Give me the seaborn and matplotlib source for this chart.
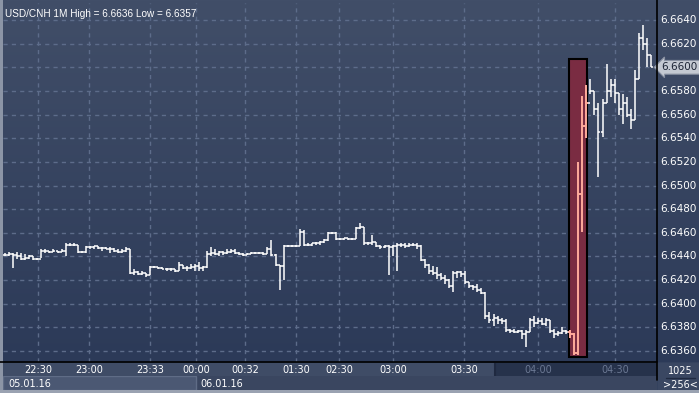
import numpy as np
import pandas as pd
import matplotlib
matplotlib.use("Agg")
import matplotlib.pyplot as plt
import seaborn as sns
from matplotlib.patches import Rectangle
from matplotlib.colors import LinearSegmentedColormap

# ---------------- data ----------------
highs = [6.6443, 6.6444, 6.6443, 6.6444, 6.6443, 6.6442, 6.6441, 6.6440, 6.6439,
         6.6446, 6.6446, 6.6445, 6.6446, 6.6445, 6.6446,
         6.6451, 6.6451, 6.6451, 6.6450, 6.6445, 6.6449, 6.6449, 6.6449, 6.6449,
         6.6448, 6.6448, 6.6448, 6.6447, 6.6446, 6.6446, 6.6448,
         6.6446, 6.6429, 6.6428, 6.6428, 6.6426, 6.6432, 6.6432, 6.6431, 6.6431,
         6.6430, 6.6430, 6.6429, 6.6435, 6.6433, 6.6432, 6.6434, 6.6434, 6.6435,
         6.6432, 6.6445, 6.6448, 6.6446, 6.6445, 6.6445, 6.6446, 6.6446, 6.6446,
         6.6444, 6.6443, 6.6443, 6.6444, 6.6444, 6.6444, 6.6444, 6.6448, 6.6454,
         6.6442, 6.6433, 6.6450, 6.6450, 6.6450, 6.6450, 6.6463, 6.6462, 6.6451,
         6.6451, 6.6452, 6.6453, 6.6455, 6.6461, 6.6461, 6.6461, 6.6456, 6.6456,
         6.6456, 6.6456, 6.6465, 6.6468, 6.6465, 6.6452, 6.6458, 6.6452, 6.6450,
         6.6450, 6.6450, 6.6450, 6.6451, 6.6451, 6.6451, 6.6451, 6.6451, 6.6451,
         6.6450, 6.6438, 6.6434, 6.6432, 6.6431, 6.6426, 6.6424, 6.6421, 6.6428,
         6.6428, 6.6428, 6.6428, 6.6418, 6.6416, 6.6417, 6.6413, 6.6410, 6.6393,
         6.6391, 6.6390, 6.6388, 6.6387, 6.6379, 6.6379, 6.6378, 6.6378, 6.6378,
         6.6388, 6.6390, 6.6388, 6.6388, 6.6388, 6.6386, 6.6379, 6.6377, 6.6380,
         6.6378, 6.6378, 6.6375, 6.6520, 6.6576, 6.6585,
         6.6590, 6.6580, 6.6570, 6.6573, 6.6603, 6.6590, 6.6590, 6.6578, 6.6577,
         6.6575, 6.6565, 6.6598, 6.6629, 6.6636, 6.6625, 6.6610]
lows = [6.6440, 6.6440, 6.6430, 6.6438, 6.6437, 6.6437, 6.6438, 6.6437, 6.6437,
        6.6439, 6.6443, 6.6443, 6.6444, 6.6443, 6.6444,
        6.6440, 6.6449, 6.6449, 6.6443, 6.6443, 6.6443, 6.6446, 6.6446, 6.6446,
        6.6445, 6.6446, 6.6443, 6.6444, 6.6443, 6.6443, 6.6444,
        6.6425, 6.6424, 6.6424, 6.6424, 6.6423, 6.6424, 6.6430, 6.6429, 6.6429,
        6.6428, 6.6428, 6.6427, 6.6428, 6.6429, 6.6428, 6.6429, 6.6428, 6.6428,
        6.6428, 6.6430, 6.6440, 6.6441, 6.6440, 6.6441, 6.6442, 6.6443, 6.6442,
        6.6441, 6.6440, 6.6441, 6.6442, 6.6442, 6.6442, 6.6441, 6.6442, 6.6440,
        6.6432, 6.6412, 6.6420, 6.6448, 6.6448, 6.6448, 6.6449, 6.6449, 6.6449,
        6.6449, 6.6450, 6.6450, 6.6451, 6.6453, 6.6459, 6.6454, 6.6454, 6.6454,
        6.6454, 6.6454, 6.6455, 6.6463, 6.6450, 6.6450, 6.6450, 6.6448, 6.6446,
        6.6447, 6.6424, 6.6440, 6.6428, 6.6448, 6.6447, 6.6448, 6.6449, 6.6446,
        6.6436, 6.6430, 6.6425, 6.6424, 6.6421, 6.6420, 6.6417, 6.6413, 6.6410,
        6.6422, 6.6423, 6.6417, 6.6413, 6.6412, 6.6410, 6.6408, 6.6387, 6.6384,
        6.6381, 6.6383, 6.6383, 6.6376, 6.6375, 6.6375, 6.6375, 6.6370, 6.6363,
        6.6376, 6.6380, 6.6383, 6.6382, 6.6381, 6.6375, 6.6371, 6.6373, 6.6374,
        6.6374, 6.6371, 6.6357, 6.6357, 6.6461, 6.6540,
        6.6577, 6.6560, 6.6507, 6.6541, 6.6570, 6.6575, 6.6570, 6.6560, 6.6552,
        6.6558, 6.6548, 6.6555, 6.6590, 6.6615, 6.6600, 6.6600]
closes = [6.6441, 6.6442, 6.6441, 6.6440, 6.6438, 6.6439, 6.6440, 6.6438, 6.6438,
          6.6445, 6.6445, 6.6444, 6.6445, 6.6444, 6.6445,
          6.6450, 6.6450, 6.6450, 6.6444, 6.6444, 6.6448, 6.6448, 6.6449, 6.6447,
          6.6447, 6.6446, 6.6446, 6.6445, 6.6444, 6.6445, 6.6446,
          6.6426, 6.6427, 6.6425, 6.6426, 6.6424, 6.6431, 6.6431, 6.6430, 6.6429,
          6.6429, 6.6429, 6.6428, 6.6433, 6.6430, 6.6430, 6.6431, 6.6432, 6.6430,
          6.6431, 6.6442, 6.6443, 6.6442, 6.6444, 6.6443, 6.6444, 6.6445, 6.6443,
          6.6442, 6.6441, 6.6442, 6.6443, 6.6443, 6.6443, 6.6442, 6.6446, 6.6441,
          6.6433, 6.6432, 6.6449, 6.6449, 6.6449, 6.6449, 6.6461, 6.6450, 6.6450,
          6.6451, 6.6451, 6.6452, 6.6454, 6.6460, 6.6460, 6.6455, 6.6455, 6.6456,
          6.6455, 6.6455, 6.6464, 6.6465, 6.6451, 6.6451, 6.6452, 6.6449, 6.6448,
          6.6449, 6.6448, 6.6449, 6.6450, 6.6450, 6.6449, 6.6450, 6.6450, 6.6449,
          6.6437, 6.6433, 6.6428, 6.6426, 6.6424, 6.6422, 6.6420, 6.6415, 6.6426,
          6.6427, 6.6425, 6.6418, 6.6415, 6.6414, 6.6412, 6.6409, 6.6390, 6.6386,
          6.6388, 6.6386, 6.6385, 6.6378, 6.6377, 6.6376, 6.6377, 6.6374, 6.6376,
          6.6386, 6.6384, 6.6385, 6.6383, 6.6386, 6.6377, 6.6374, 6.6375, 6.6377,
          6.6376, 6.6374, 6.6358, 6.6493, 6.6550, 6.6570,
          6.6580, 6.6565, 6.6545, 6.6570, 6.6580, 6.6585, 6.6578, 6.6565, 6.6570,
          6.6560, 6.6555, 6.6590, 6.6625, 6.6620, 6.6610, 6.6600]
highlight_bars = [140, 141, 142, 143, 144]
time_labels = ["22:30", "23:00", "23:33", "00:00", "00:32", "01:30", "02:30",
               "03:00", "03:30", "04:00", "04:30"]
time_pos = [8.2, 20.8, 35.9, 47.3, 59.4, 72.1, 82.7, 96.1, 113.7, 132.0, 151.1]
price_ticks = [6.6360, 6.6380, 6.6400, 6.6420, 6.6440, 6.6460, 6.6480, 6.6500,
               6.6520, 6.6540, 6.6560, 6.6580, 6.6600, 6.6620, 6.6640]
last_price = 6.6600
title = "USD/CNH 1M High = 6.6636 Low = 6.6357"
date_labels = ["05.01.16", "06.01.16"]

df = pd.DataFrame({"high": highs, "low": lows, "close": closes})
df["idx"] = np.arange(len(df))
df["open"] = df["close"].shift(1).fillna(df["close"].iloc[0])
df["hl"] = df["idx"].isin(highlight_bars)

# ---------------- figure ----------------
sns.set_theme(style="dark")
plt.rcParams["font.family"] = ["DejaVu Sans"]
W, H = 699, 393
fig = plt.figure(figsize=(W / 100, H / 100), dpi=100)
fig.patch.set_facecolor("#34425e")

def box(x0, y0, x1, y1):
    return [x0 / W, 1 - y1 / H, (x1 - x0) / W, (y1 - y0) / H]

bg = fig.add_axes(box(0, 0, W, 362))
grad = np.linspace(0, 1, 256).reshape(-1, 1)
cmap = LinearSegmentedColormap.from_list("bg", ["#414e68", "#2c3a58"])
bg.imshow(grad, aspect="auto", cmap=cmap, extent=[0, 1, 0, 1])
bg.set_axis_off()

ax = fig.add_axes(box(3, 3, 657, 362))
ax.set_facecolor("none")
ax.set_xlim(-0.5, 161.5)
ax.set_ylim(6.63507, 6.66544)
for p in price_ticks:
    ax.axhline(p, color="#5d6c8a", lw=1, ls=(0, (3, 3)), zorder=1)
for t in time_pos:
    ax.axvline(t, color="#5d6c8a", lw=1, ls=(0, (3, 3)), zorder=1)

ax.add_patch(Rectangle((139.6, 6.6355), 4.6, 6.6607 - 6.6355,
                       facecolor="#7a2c42", edgecolor="black", lw=1.5, zorder=2))

norm = df[~df["hl"]]
hl = df[df["hl"]]
for sub, col, lw in [(norm, "white", 1.1), (hl, "#ffab9b", 1.4)]:
    ax.vlines(sub["idx"], sub["low"], sub["high"], color=col, lw=lw, zorder=3)
    ax.plot(sub["idx"], sub["open"], ls="none", marker=0, ms=1.7, mew=lw,
            color=col, zorder=3)
    sns.scatterplot(data=sub, x="idx", y="close", marker=1, s=3, color=col,
                    linewidth=lw, ax=ax, zorder=3, legend=False)
ax.set_xticks([])
ax.set_yticks([])
ax.set_xlabel("")
ax.set_ylabel("")
for s in ax.spines.values():
    s.set_visible(False)
ax.text(0.003, 0.984, title, transform=ax.transAxes, color="white",
        fontsize=7.2, va="top", ha="left",
        family=["Liberation Sans Narrow", "Liberation Sans", "DejaVu Sans"])

rax = fig.add_axes(box(657, 3, W, 362))
rax.set_facecolor("none")
rax.set_ylim(ax.get_ylim())
rax.set_xlim(0, 1)
rax.set_axis_off()
for p in price_ticks:
    if abs(p - last_price) < 1e-9:
        continue
    rax.text(0.07, p, f"{p:.4f}", color="white", fontsize=7.5, va="center", ha="left")
rax.text(0.11, last_price, f"{last_price:.4f}", color="#1c2435", fontsize=7.5,
         va="center", ha="left",
         bbox=dict(boxstyle="larrow,pad=0.18", facecolor="#c4c9d2",
                   edgecolor="#8a92a2", lw=0.8))

fig.add_artist(plt.Line2D([657 / W, 657 / W], [1 - 380 / H, 1], color="black", lw=1.2))
fig.add_artist(plt.Line2D([0, 657 / W], [1 - 362 / H, 1 - 362 / H], color="black", lw=1.2))

tax = fig.add_axes(box(3, 363, 657, 376))
tax.set_xlim(ax.get_xlim())
tax.set_ylim(0, 1)
tax.set_facecolor("#3f4c66")
tax.axvspan(121.3, 161.5, color="#26324b", zorder=0)
tax.axvline(121.3, color="#1f2940", lw=1.5)
for lab, pos in zip(time_labels, time_pos):
    c = "#6b7893" if pos > 121.3 else "white"
    tax.text(pos, 0.45, lab, color=c, fontsize=7, ha="center", va="center")
tax.set_xticks([]); tax.set_yticks([])
for s in tax.spines.values():
    s.set_visible(False)

dax = fig.add_axes(box(3, 376, 657, 390))
dax.set_xlim(3, 657)
dax.set_ylim(0, 1)
dax.set_facecolor("#3a4660")
dax.add_patch(Rectangle((3, 0.0), 193, 1.0, facecolor="#4b5873",
                        edgecolor="#5f6c86", lw=1))
dax.text(8, 0.45, date_labels[0], color="white", fontsize=7, va="center")
dax.text(200, 0.45, date_labels[1], color="white", fontsize=7, va="center")
dax.set_xticks([]); dax.set_yticks([])
for s in dax.spines.values():
    s.set_visible(False)

cax = fig.add_axes(box(658, 363, W, 390))
cax.set_facecolor("#3a4762")
cax.set_xlim(0, 1); cax.set_ylim(0, 1)
cax.text(0.55, 0.69, "1025", color="white", fontsize=7, ha="center", va="center")
cax.plot([0.2, 0.9], [0.45, 0.45], color="#1f2940", lw=1)
cax.text(0.55, 0.19, ">256<", color="white", fontsize=7, ha="center", va="center")
cax.set_xticks([]); cax.set_yticks([])
for s in cax.spines.values():
    s.set_visible(False)

fig.add_artist(Rectangle((0, 0), 3 / W, 1, transform=fig.transFigure,
                         facecolor="#8c95a6", edgecolor="none"))
fig.add_artist(Rectangle((0, 0), 1, 3 / H, transform=fig.transFigure,
                         facecolor="#9aa2b1", edgecolor="none"))

fig.savefig("out.png", dpi=100)
